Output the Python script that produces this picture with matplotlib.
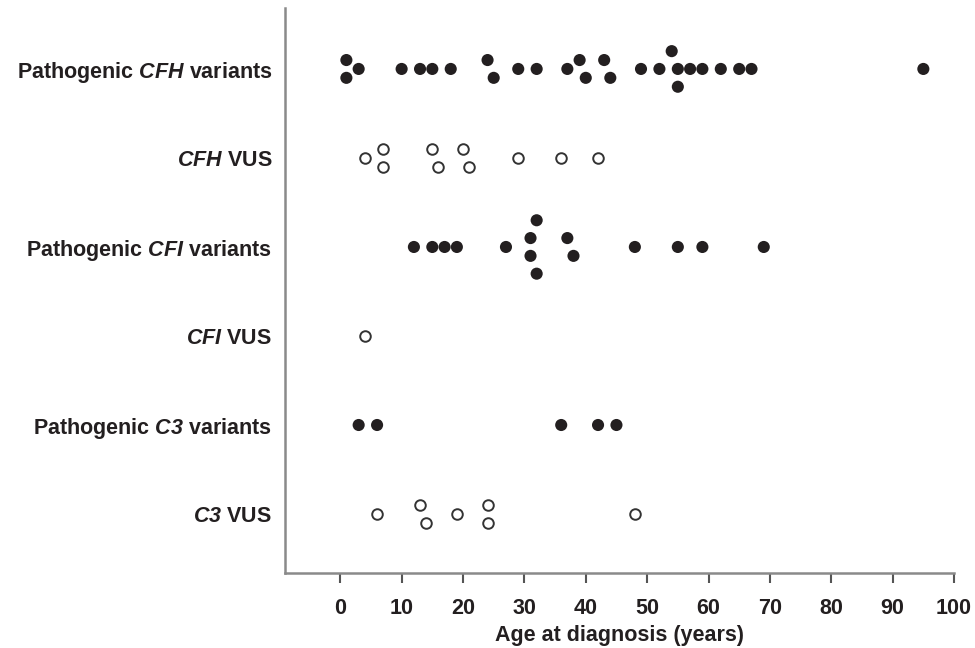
import matplotlib
matplotlib.use('Agg')
import matplotlib.pyplot as plt
import numpy as np

# ages at diagnosis
cfh_path = [1, 1, 3, 10, 13, 15, 18, 24, 25, 29, 32, 37, 39, 40, 43, 44,
            49, 52, 54, 55, 55, 57, 59, 62, 65, 67, 95]
cfh_vus = [4, 7, 7, 15, 16, 20, 21, 29, 36, 42]
cfi_path = [12, 15, 17, 19, 27, 31, 31, 32, 32, 37, 38, 48, 55, 59, 69]
cfi_vus = [4]
c3_path = [3, 6, 36, 42, 45]
c3_vus = [6, 13, 14, 19, 24, 24, 48]

row_labels = [r'Pathogenic $\mathbfit{CFH}$ variants',
              r'$\mathbfit{CFH}$ VUS',
              r'Pathogenic $\mathbfit{CFI}$ variants',
              r'$\mathbfit{CFI}$ VUS',
              r'Pathogenic $\mathbfit{C3}$ variants',
              r'$\mathbfit{C3}$ VUS']
rows = [cfh_path, cfh_vus, cfi_path, cfi_vus, c3_path, c3_vus]
filled = [True, False, True, False, True, False]
xticks = list(range(0, 101, 10))

plt.rcParams['font.family'] = 'Liberation Sans'
plt.rcParams['mathtext.fontset'] = 'custom'
plt.rcParams['mathtext.rm'] = 'Liberation Sans:bold'
plt.rcParams['mathtext.bf'] = 'Liberation Sans:bold'
plt.rcParams['mathtext.bfit'] = 'Liberation Sans:italic:bold'
plt.rcParams['mathtext.it'] = 'Liberation Sans:italic:bold'

ink = '#231f20'
grey = '#8a8a8a'
fs = 15.5


def swarm(vals, gap=1.5, step=0.2):
    # stack near-identical values vertically, centred on the row
    vals = np.asarray(vals, dtype=float)
    order = np.argsort(vals, kind='stable')
    off = np.zeros(len(vals))
    groups = [[order[0]]]
    for a, b in zip(order[:-1], order[1:]):
        if vals[b] - vals[a] < gap:
            groups[-1].append(b)
        else:
            groups.append([b])
    for g in groups:
        n = len(g)
        if n == 1:
            continue
        if n % 2:
            levels = [0]
            for k in range(1, n // 2 + 1):
                levels += [-k, k]
        else:
            levels = []
            for k in range(n // 2):
                levels += [k + 0.5, -(k + 0.5)]
        med = np.median(vals[g])
        g = sorted(g, key=lambda i: abs(vals[i] - med))
        for i, lv in zip(g, levels):
            off[i] = lv * step
    return off


fig = plt.figure(figsize=(9.75, 6.48), dpi=100)
ax = fig.add_axes([0.292, 0.1157, 0.6865, 0.872])

n = len(rows)
for k, (vals, fl) in enumerate(zip(rows, filled)):
    ypos = n - 1 - k + swarm(vals)
    if fl:
        ax.scatter(vals, ypos, s=76, color=ink, edgecolors='none', zorder=3)
    else:
        ax.scatter(vals, ypos, s=58, facecolors='white', edgecolors='#333333',
                   linewidths=1.4, zorder=3)

ax.set_xlim(-9.05, 100)
ax.set_ylim(-0.663, n - 1 + 0.685)
ax.set_xticks(xticks)
ax.set_yticks(range(n - 1, -1, -1))
ax.set_yticklabels(row_labels)

for s in ['top', 'right']:
    ax.spines[s].set_visible(False)
for s in ['left', 'bottom']:
    ax.spines[s].set_color(grey)
    ax.spines[s].set_linewidth(1.8)

ax.tick_params(axis='x', length=7, width=1.5, color='#555555', pad=11,
               labelsize=fs, labelcolor=ink)
ax.tick_params(axis='y', length=0, pad=9, labelsize=fs, labelcolor=ink)
for lab in ax.get_xticklabels() + ax.get_yticklabels():
    lab.set_fontweight('bold')

ax.set_xlabel('Age at diagnosis (years)', fontsize=fs, fontweight='bold',
              color=ink, labelpad=4)

fig.savefig('out.png', dpi=100)
